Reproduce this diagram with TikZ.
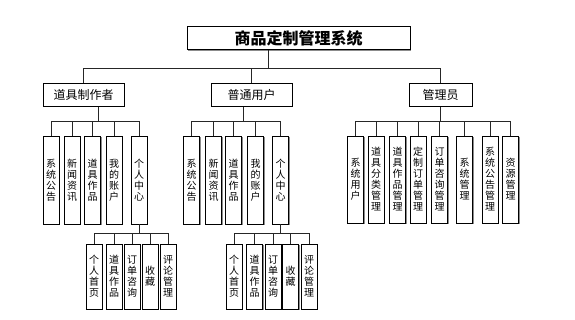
\documentclass[tikz,border=0pt]{standalone}
\usepackage{fontspec}
\setmainfont{Noto Sans CJK SC}
\usetikzlibrary{positioning, shadows}

\begin{document}
\begin{tikzpicture}[
    x=1pt, y=-1pt,
    sh/.style={general shadow={fill=black!45, shadow xshift=1pt, shadow yshift=-1pt}},
    sysbox/.style={draw, line width=1pt, fill=white, sh,
                   minimum width=223pt, minimum height=23pt, inner sep=0pt,
                   font=\fontsize{16}{18}\selectfont\bfseries},
    role/.style={draw, line width=0.8pt, fill=white, sh,
                 minimum height=23pt, inner sep=0pt,
                 font=\fontsize{12}{14}\selectfont},
    leaf/.style={draw, line width=0.8pt, fill=white, sh,
                 minimum width=16pt, minimum height=88pt, inner sep=0pt,
                 align=center, font=\fontsize{10}{11}\selectfont},
    subleaf/.style={leaf, minimum height=65pt},
    link/.style={draw=black!85, line width=0.8pt},
]
\useasboundingbox (0,0) rectangle (575,320);

% top and roles
\node[sysbox] (sys) at (298.5,38.5) {商品定制管理系统};
\node[role, minimum width=81pt] (maker) at (83.5,95) {道具制作者};
\node[role, minimum width=81pt] (user) at (251.5,95) {普通用户};
\node[role, minimum width=63pt] (admin) at (440.5,95) {管理员};

% leaves
\foreach \x/\t [count=\i] in {51/{系\\统\\公\\告}, 72/{新\\闻\\资\\讯},
    92.5/{道\\具\\作\\品}, 114/{我\\的\\账\\户}, 139/{个\\人\\中\\心}}
    \node[leaf] (m\i) at (\x,180) {\t};
\foreach \x/\t [count=\i] in {191.5/{系\\统\\公\\告}, 213.5/{新\\闻\\资\\讯},
    233.5/{道\\具\\作\\品}, 255.5/{我\\的\\账\\户}, 280.5/{个\\人\\中\\心}}
    \node[leaf] (u\i) at (\x,180) {\t};
\foreach \x/\t [count=\i] in {355.5/{系\\统\\用\\户}, 376/{道\\具\\分\\类\\管\\理},
    397.5/{道\\具\\作\\品\\管\\理}, 418/{定\\制\\订\\单\\管\\理},
    439.5/{订\\单\\咨\\询\\管\\理}, 464.5/{系\\统\\管\\理},
    490/{系\\统\\公\\告\\管\\理}, 510.5/{资\\源\\管\\理}}
    \node[leaf, minimum height=87pt] (a\i) at (\x,179.5) {\t};

% personal center
\foreach \x/\t [count=\i] in {94/{个\\人\\首\\页}, 114/{道\\具\\作\\品},
    132/{订\\单\\咨\\询}, 150/{收\\藏}, 168/{评\\论\\管\\理}}
    \node[subleaf] (mc\i) at (\x,276.5) {\t};
\foreach \x/\t [count=\i] in {234/{个\\人\\首\\页}, 254.5/{道\\具\\作\\品},
    273/{订\\单\\咨\\询}, 290.5/{收\\藏}, 309/{评\\论\\管\\理}}
    \node[subleaf] (uc\i) at (\x,276.5) {\t};

% connectors
\foreach \r/\dx in {maker/-30.5, user/-30.5, admin/-30.5}
    \draw[link] (\r.north) -- ++(0,-15) -| ([xshift=\dx pt]sys.south);
\foreach \i in {1,...,5} {
    \draw[link] (m\i.north) -- ++(0,-14) -| ([xshift=14.5pt]maker.south);
    \draw[link] (u\i.north) -- ++(0,-14) -| ([xshift=-8.5pt]user.south);
    \draw[link] (mc\i.north) -- ++(0,-10.5) -| (m5.south);
    \draw[link] (uc\i.north) -- ++(0,-10.5) -| (u5.south);
}
\foreach \i in {1,...,8}
    \draw[link] (a\i.north) -- ++(0,-14) -| (admin.south);
\end{tikzpicture}
\end{document}
